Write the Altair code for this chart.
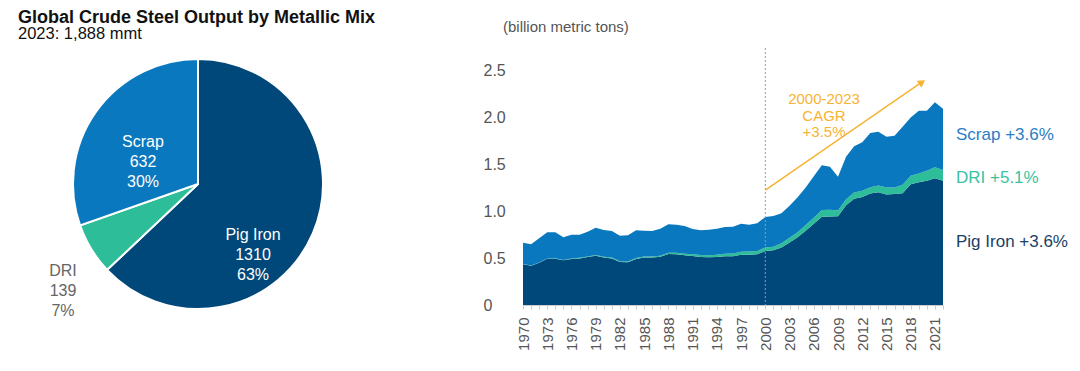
import altair as alt
import pandas as pd

# ---------------- data ----------------
years = list(range(1970, 2023))

pig_iron = [0.433, 0.418, 0.450, 0.493, 0.493, 0.475, 0.489, 0.496, 0.510, 0.525,
            0.504, 0.496, 0.457, 0.454, 0.489, 0.504, 0.504, 0.512, 0.543, 0.539,
            0.528, 0.521, 0.510, 0.507, 0.510, 0.518, 0.518, 0.535, 0.535, 0.539,
            0.574, 0.582, 0.613, 0.665, 0.720, 0.790, 0.865, 0.940, 0.942, 0.945,
            1.060, 1.130, 1.150, 1.185, 1.200, 1.175, 1.180, 1.190, 1.285, 1.305,
            1.323, 1.348, 1.323]

dri = [0.002, 0.002, 0.003, 0.003, 0.004, 0.005, 0.005, 0.006, 0.007, 0.008,
       0.008, 0.009, 0.008, 0.009, 0.010, 0.011, 0.012, 0.013, 0.014, 0.016,
       0.017, 0.020, 0.021, 0.022, 0.025, 0.027, 0.029, 0.032, 0.034, 0.035,
       0.039, 0.039, 0.045, 0.050, 0.055, 0.060, 0.062, 0.070, 0.070, 0.060,
       0.065, 0.068, 0.065, 0.068, 0.070, 0.075, 0.070, 0.088, 0.090, 0.095,
       0.105, 0.117, 0.113]

scrap = [0.228, 0.225, 0.256, 0.277, 0.276, 0.240, 0.254, 0.246, 0.263, 0.290,
         0.286, 0.282, 0.273, 0.278, 0.295, 0.275, 0.271, 0.287, 0.301, 0.300,
         0.295, 0.268, 0.263, 0.272, 0.277, 0.285, 0.286, 0.298, 0.286, 0.295,
         0.322, 0.326, 0.317, 0.340, 0.370, 0.400, 0.443, 0.478, 0.460, 0.360,
         0.453, 0.490, 0.517, 0.577, 0.574, 0.540, 0.550, 0.619, 0.621, 0.667,
         0.639, 0.691, 0.652]

series_names = ["Pig Iron", "DRI", "Scrap"]
series_cagr = ["+3.6%", "+5.1%", "+3.6%"]

pie_names = ["Pig Iron", "DRI", "Scrap"]
pie_values = [1310, 139, 632]
pie_pcts = ["63%", "7%", "30%"]

title_text = "Global Crude Steel Output by Metallic Mix"
subtitle_text = "2023: 1,888 mmt"
unit_text = "(billion metric tons)"
cagr_lines = ["2000-2023", "CAGR", "+3.5%"]

# ---------------- styles ----------------
FONT = "Liberation Sans"
C_PIG = "#00477A"
C_DRI = "#2EBD99"
C_SCRAP = "#0A78BE"
C_ORANGE = "#F7B334"
C_GREY = "#555555"

rows = []
for i, y in enumerate(years):
    for k, (name, arr) in enumerate(zip(series_names, [pig_iron, dri, scrap])):
        rows.append({"year": y, "series": name, "value": arr[i], "ord": k})
df = pd.DataFrame(rows)

pie_df = pd.DataFrame({"name": pie_names, "value": pie_values, "pct": pie_pcts,
                       "ord": [0, 1, 2]})
pie_df["label"] = pie_df["name"] + "\n" + pie_df["value"].astype(str) + "\n" + pie_df["pct"]

one = pd.DataFrame({"a": [0]})

color_scale = alt.Scale(domain=series_names, range=[C_PIG, C_DRI, C_SCRAP])

# plot area origin on page = (523, 70); plot 420 x 235
OX, OY = 523, 70

area = alt.Chart(df).mark_area(interpolate="linear").encode(
    x=alt.X("year:Q",
            scale=alt.Scale(domain=[1970, 2022], nice=False, zero=False),
            axis=alt.Axis(values=years, tickCount=80, title=None, grid=False,
                          labelExpr="(datum.value - 1970) % 3 == 0 ? '' + datum.value : ''",
                          labelAngle=270, labelOverlap=False, labelFlush=False,
                          labelBound=False,
                          labelFontSize=15, labelColor=C_GREY, labelFont=FONT,
                          labelPadding=8, tickSize=4, tickColor="#cccccc",
                          domainColor="#cccccc")),
    y=alt.Y("value:Q", stack=True,
            scale=alt.Scale(domain=[0, 2.5], nice=False),
            axis=alt.Axis(values=[0, 0.5, 1, 1.5, 2, 2.5], title=None, grid=False,
                          domain=False, ticks=False, tickSize=0,
                          labelExpr="datum.value == 0 ? '0' : format(datum.value, '.1f')",
                          labelAlign="left", labelPadding=40, labelFontSize=16,
                          labelColor=C_GREY, labelFont=FONT)),
    color=alt.Color("series:N", scale=color_scale, legend=None),
    order=alt.Order("ord:Q"),
)

vline = alt.Chart(one).mark_rule(strokeDash=[2, 2], color="#999999", strokeWidth=1).encode(
    x=alt.datum(2000), y=alt.value(48 - OY), y2=alt.value(235))

arrow = alt.Chart(one).mark_rule(color=C_ORANGE, strokeWidth=1.5).encode(
    x=alt.datum(2000), y=alt.datum(1.223), x2=alt.datum(2019.2), y2=alt.datum(2.36))
arrow_head = alt.Chart(one).mark_point(shape="triangle-up", filled=True, size=70,
                                       angle=55, color=C_ORANGE, opacity=1).encode(
    x=alt.datum(2019.4), y=alt.datum(2.37))

cagr_txt = alt.Chart(one).mark_text(font=FONT, fontSize=15, color=C_ORANGE,
                                    align="center", baseline="middle", lineHeight=16.5).encode(
    x=alt.value(824 - OX), y=alt.value(99 - OY), text=alt.value(cagr_lines))

legend_colors = ["#1B3F66", "#3BC1A0", "#2A7EC4"]
legend_y = [242, 178, 135]
legend_layers = []
for name, cagr, col, ly in zip(series_names, series_cagr, legend_colors, legend_y):
    legend_layers.append(
        alt.Chart(one).mark_text(font=FONT, fontSize=17, color=col, align="left",
                                 baseline="middle").encode(
            x=alt.value(956 - OX), y=alt.value(ly - OY), text=alt.value(f"{name} {cagr}")))

unit_txt = alt.Chart(one).mark_text(font=FONT, fontSize=15, color=C_GREY, align="left",
                                    baseline="middle").encode(
    x=alt.value(503 - OX), y=alt.value(27 - OY), text=alt.value(unit_text))

title = alt.Chart(one).mark_text(font=FONT, fontSize=18, fontWeight="bold", color="#111111",
                                 align="left", baseline="alphabetic").encode(
    x=alt.value(18 - OX), y=alt.value(23 - OY), text=alt.value(title_text))
subtitle = alt.Chart(one).mark_text(font=FONT, fontSize=16.5, color="#111111",
                                    align="left", baseline="alphabetic").encode(
    x=alt.value(18 - OX), y=alt.value(39 - OY), text=alt.value(subtitle_text))

# pie
PCX, PCY = 198, 184
pie = alt.Chart(pie_df).mark_arc(outerRadius=125, stroke="white", strokeWidth=2).encode(
    theta=alt.Theta("value:Q", stack=True),
    color=alt.Color("name:N", scale=color_scale, legend=None),
    order=alt.Order("ord:Q"),
    x=alt.value(PCX - OX), y=alt.value(PCY - OY),
)

label_pos = {"Pig Iron": (253, 235, "white"), "Scrap": (143, 142, "white"),
             "DRI": (63, 271, "#666666")}
pie_labels = []
for name, (lx, ly, col) in label_pos.items():
    pie_labels.append(
        alt.Chart(pie_df).transform_filter(alt.datum.name == name).mark_text(
            font=FONT, fontSize=16, color=col, align="center", baseline="middle",
            lineBreak="\n", lineHeight=20).encode(
            x=alt.value(lx - OX), y=alt.value(ly - OY), text="label:N"))

chart = alt.layer(area, vline, arrow, arrow_head, cagr_txt, *legend_layers, unit_txt,
                  title, subtitle, pie, *pie_labels).properties(
    width=420, height=235,
    background="white",
    autosize=alt.AutoSizeParams(type="none"),
    padding={"left": OX - 8, "top": OY - 8, "right": 1064 - (OX - 8) - 420,
             "bottom": 355 - (OY - 8) - 235},
).configure_view(strokeOpacity=0, strokeWidth=0).configure_axisX(
    labelOverlap=False
)

chart.save("out.html", embed_options={"renderer": "svg", "actions": False})
